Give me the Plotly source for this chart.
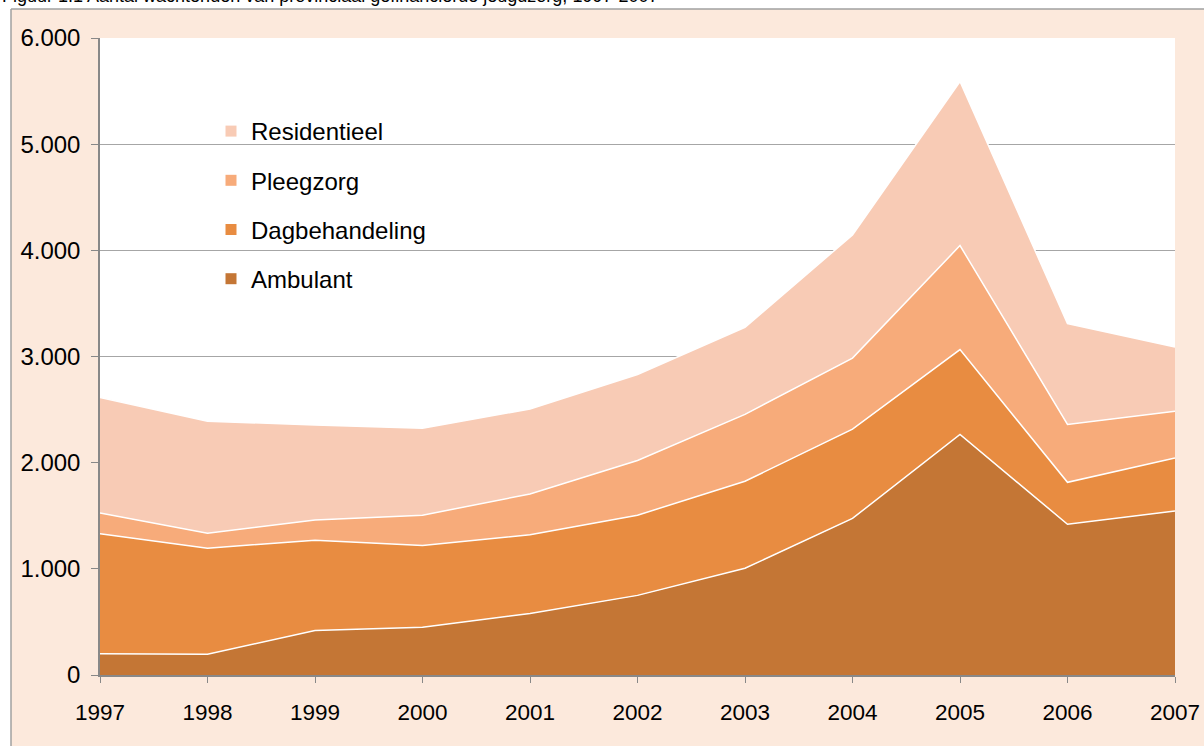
import plotly.graph_objects as go

years = [1997, 1998, 1999, 2000, 2001, 2002, 2003, 2004, 2005, 2006, 2007]
ambulant = [200, 195, 420, 450, 580, 750, 1005, 1475, 2265, 1420, 1545]
dagbehandeling = [1130, 1000, 850, 770, 740, 755, 820, 840, 800, 395, 500]
pleegzorg = [195, 140, 190, 285, 385, 515, 630, 670, 980, 545, 440]
residentieel = [1090, 1055, 895, 820, 800, 810, 820, 1160, 1545, 950, 605]

series = [
    ("Ambulant", ambulant, "#C47635"),
    ("Dagbehandeling", dagbehandeling, "#E88C41"),
    ("Pleegzorg", pleegzorg, "#F7AB7A"),
    ("Residentieel", residentieel, "#F8CBB5"),
]

# plot area in pixels
L, R, T, B = 100, 29, 38, 71
W, H = 1204, 746
pw, ph = W - L - R, H - T - B

def px(x):
    return (x - L) / pw

def py(y):
    return (H - B - y) / ph

traces = []
for name, vals, color in series:
    traces.append(go.Scatter(
        x=years,
        y=vals,
        name=name,
        mode='lines',
        stackgroup='one',
        fillcolor=color,
        line=dict(color='white', width=1.5),
        showlegend=False,
    ))

# legend entries with square swatches, top to bottom
for name, vals, color in reversed(series):
    traces.append(go.Scatter(
        x=[None], y=[None],
        name=name,
        mode='markers',
        marker=dict(symbol='square', size=11, color=color),
        legendgroup=name,
        showlegend=True,
    ))

fig = go.Figure(data=traces)

fig.update_layout(
    width=W,
    height=H,
    margin=dict(l=L, r=R, t=T, b=B, autoexpand=False),
    paper_bgcolor="#FCE9DC",
    plot_bgcolor="white",
    font=dict(family="Liberation Sans, Arial, sans-serif", size=22, color="black"),
    showlegend=True,
    legend=dict(
        x=px(211), y=py(109),
        xanchor="left", yanchor="top",
        traceorder="grouped",
        tracegroupgap=15,
        bgcolor="rgba(0,0,0,0)",
        font=dict(size=24),
        itemwidth=30,
    ),
    xaxis=dict(
        range=[1997, 2007],
        tickmode="array",
        tickvals=years,
        ticks="outside",
        ticklen=6,
        tickcolor="#888888",
        tickfont=dict(size=22.5),
        showline=True,
        linecolor="#888888",
        linewidth=1.5,
        showgrid=False,
        zeroline=False,
        automargin=False,
        ticklabelstandoff=10,
    ),
    yaxis=dict(
        range=[0, 6000],
        dtick=1000,
        tickformat=",d",
        ticks="outside",
        ticklen=7,
        tickcolor="#888888",
        tickfont=dict(size=24),
        showline=True,
        linecolor="#888888",
        linewidth=1.5,
        showgrid=True,
        gridcolor="#A6A6A6",
        gridwidth=1,
        zeroline=False,
        automargin=False,
        ticklabelstandoff=6,
    ),
    separators=",.",
    shapes=[
        # white strip above the chart box
        dict(type="rect", xref="paper", yref="paper",
             x0=px(-5), x1=px(W + 5), y0=py(9), y1=py(-5),
             fillcolor="white", line=dict(width=0), layer="above"),
        # white strip left of the chart box
        dict(type="rect", xref="paper", yref="paper",
             x0=px(-5), x1=px(11), y0=py(W), y1=py(9),
             fillcolor="white", line=dict(width=0), layer="above"),
        # box border
        dict(type="line", xref="paper", yref="paper",
             x0=px(11), x1=px(W + 5), y0=py(9), y1=py(9),
             line=dict(color="#A0A0A0", width=1.5), layer="above"),
        dict(type="line", xref="paper", yref="paper",
             x0=px(11), x1=px(11), y0=py(9), y1=py(W),
             line=dict(color="#A0A0A0", width=1.5), layer="above"),
    ],
    annotations=[
        dict(text="Figuur 1.1 Aantal wachtenden van provinciaal gefinancierde jeugdzorg, 1997-2007",
             xref="paper", yref="paper", x=px(0), y=py(8.5),
             xanchor="left", yanchor="bottom", showarrow=False,
             font=dict(size=18, color="black")),
    ],
)

fig.write_html("out.html", config={"displayModeBar": False},
               post_script="document.body.style.margin='0';")
